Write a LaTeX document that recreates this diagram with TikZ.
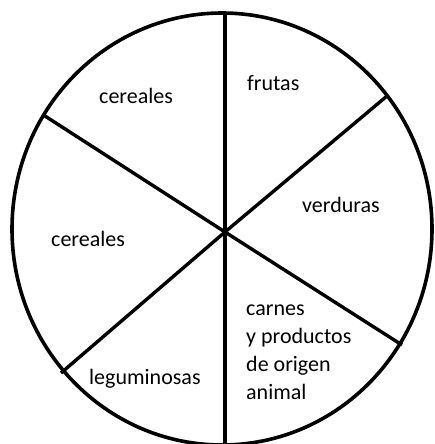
\documentclass[tikz,border=0pt]{standalone}
\usepackage{fontspec}
\setmainfont{Carlito}
\usetikzlibrary{positioning}

\begin{document}
\begin{tikzpicture}[x=1pt, y=-1pt]
  \tikzset{rim/.style={line width=3.6pt},
           spoke/.style={line width=3.4pt},
           food/.style={anchor=base west, inner sep=0pt, align=left,
                        font=\fontsize{22}{28}\selectfont}}
  \useasboundingbox (0,0) rectangle (434,444);

  % the plate and its centre
  \coordinate (o) at (222,229);
  \coordinate (c) at (225,232);
  \draw[rim] (o) ellipse [x radius=210pt, y radius=216pt];

  % ends of the spokes on the rim
  \coordinate (top) at (225,12);
  \coordinate (bot) at (225,446);
  \coordinate (ur)  at (387,96);
  \coordinate (ll)  at (61,373);
  \coordinate (ul)  at (45,116);
  \coordinate (lr)  at (402,345);

  \draw[spoke] (c) -- (top);
  \draw[spoke] (c) -- (bot);
  \draw[spoke] (c) -- (ur);
  \draw[spoke] (c) -- (ll);
  \draw[spoke] (c) -- (ul);
  \draw[spoke] (c) -- (lr);

  % labels of the sectors (base of the last line for the long one)
  \node[food] (cer1) at (99,103)  {cereales};
  \node[food] (fru)  at (247,90)  {frutas};
  \node[food] (ver)  at (302,212) {verduras};
  \node[food] (cer2) at (51,246)  {cereales};
  \node[food] (leg)  at (89,384)  {leguminosas};
  \node[food] (car)  at (246,399) {carnes\\y productos\\de origen\\animal};
\end{tikzpicture}
\end{document}
